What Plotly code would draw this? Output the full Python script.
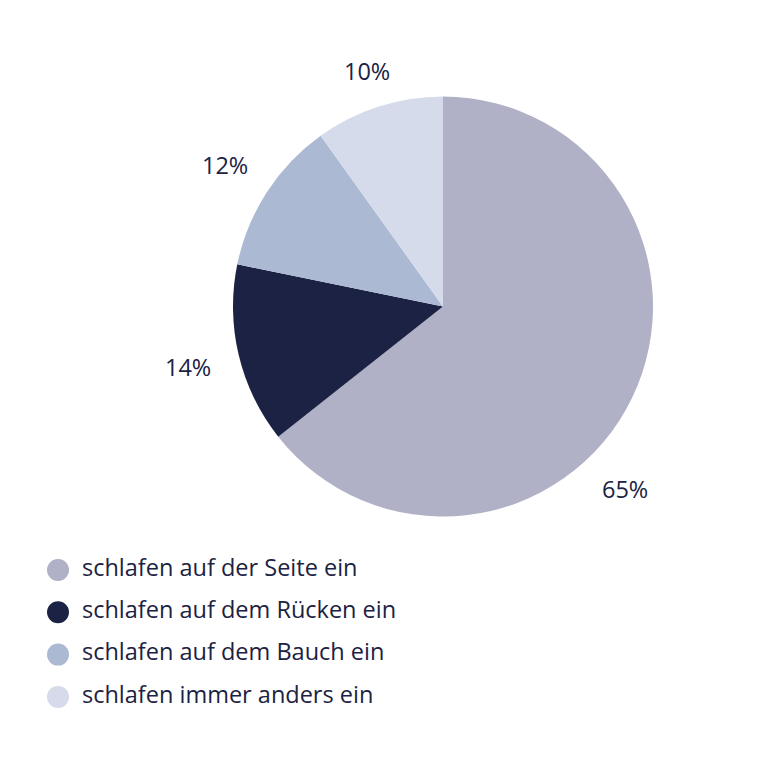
import math
import plotly.graph_objects as go

# slice values (printed shares) and category names
categories = [
    "schlafen auf der Seite ein",
    "schlafen auf dem Rücken ein",
    "schlafen auf dem Bauch ein",
    "schlafen immer anders ein",
]
shares = [65, 14, 12, 10]
pct_labels = [f"{v}%" for v in shares]

COLORS = ["#B0B1C6", "#1B2243", "#ABB9D3", "#D6DBEB"]
TEXT_COLOR = "#1B2243"
FONT = "'Open Sans', 'Noto Sans', sans-serif"
FONT_SIZE = 23.5

W = H = 767
OFF = 8  # page body margin in the exported html
CX, CY, R = 443 - OFF, 306.5 - OFF, 210
LABEL_ANGLE_OVERRIDE = {0: 135.0}  # big slice label sits lower than mid-angle
LABEL_GAP = 22

# legend layout (pixels)
LEG_X = 58 - OFF
LEG_TEXT_X = 82 - OFF
LEG_Y0 = 570 - OFF
LEG_STEP = 42.3

fig = go.Figure()

fig.add_trace(go.Pie(
    labels=categories,
    values=shares,
    sort=False,
    direction="clockwise",
    rotation=0,
    marker=dict(colors=COLORS, line=dict(width=0)),
    textinfo="none",
    hoverinfo="label+percent",
    showlegend=False,
    domain=dict(x=[(CX - R) / W, (CX + R) / W], y=[1 - (CY + R) / H, 1 - (CY - R) / H]),
    automargin=False,
))

# percentage labels around the pie, placed at each slice's angle
total = sum(shares)
start = 0.0
for i, (v, lab) in enumerate(zip(shares, pct_labels)):
    span = v / total * 360
    ang = LABEL_ANGLE_OVERRIDE.get(i, start + span / 2)
    start += span
    s, c = math.sin(math.radians(ang)), math.cos(math.radians(ang))
    dist = R + LABEL_GAP + abs(s) * 30 + abs(c) * 6
    px, py = CX + dist * s, CY - dist * c
    fig.add_annotation(
        x=px / W, y=1 - py / H, xref="paper", yref="paper",
        text=lab, showarrow=False, xanchor="center", yanchor="middle",
        font=dict(family=FONT, size=FONT_SIZE, color=TEXT_COLOR),
    )

# legend: round markers with text beside them, on a hidden pixel-scaled axis
leg_y = [LEG_Y0 + i * LEG_STEP for i in range(len(categories))]
fig.add_trace(go.Scatter(
    x=[LEG_X] * len(categories), y=leg_y,
    mode="markers",
    marker=dict(color=COLORS, size=22, symbol="circle", line=dict(width=0)),
    hoverinfo="skip",
    showlegend=False,
    cliponaxis=False,
))
fig.add_trace(go.Scatter(
    x=[LEG_TEXT_X] * len(categories), y=leg_y,
    mode="text",
    text=categories,
    textposition="middle right",
    textfont=dict(family=FONT, size=FONT_SIZE, color=TEXT_COLOR),
    hoverinfo="skip",
    showlegend=False,
    cliponaxis=False,
))

fig.update_layout(
    width=W, height=H,
    margin=dict(l=0, r=0, t=0, b=0),
    paper_bgcolor="white",
    plot_bgcolor="rgba(0,0,0,0)",
    font=dict(family=FONT, size=FONT_SIZE, color=TEXT_COLOR),
    xaxis=dict(visible=False, range=[0, W], fixedrange=True),
    yaxis=dict(visible=False, range=[H, 0], fixedrange=True),
    showlegend=False,
)

fig.write_html("out.html")
